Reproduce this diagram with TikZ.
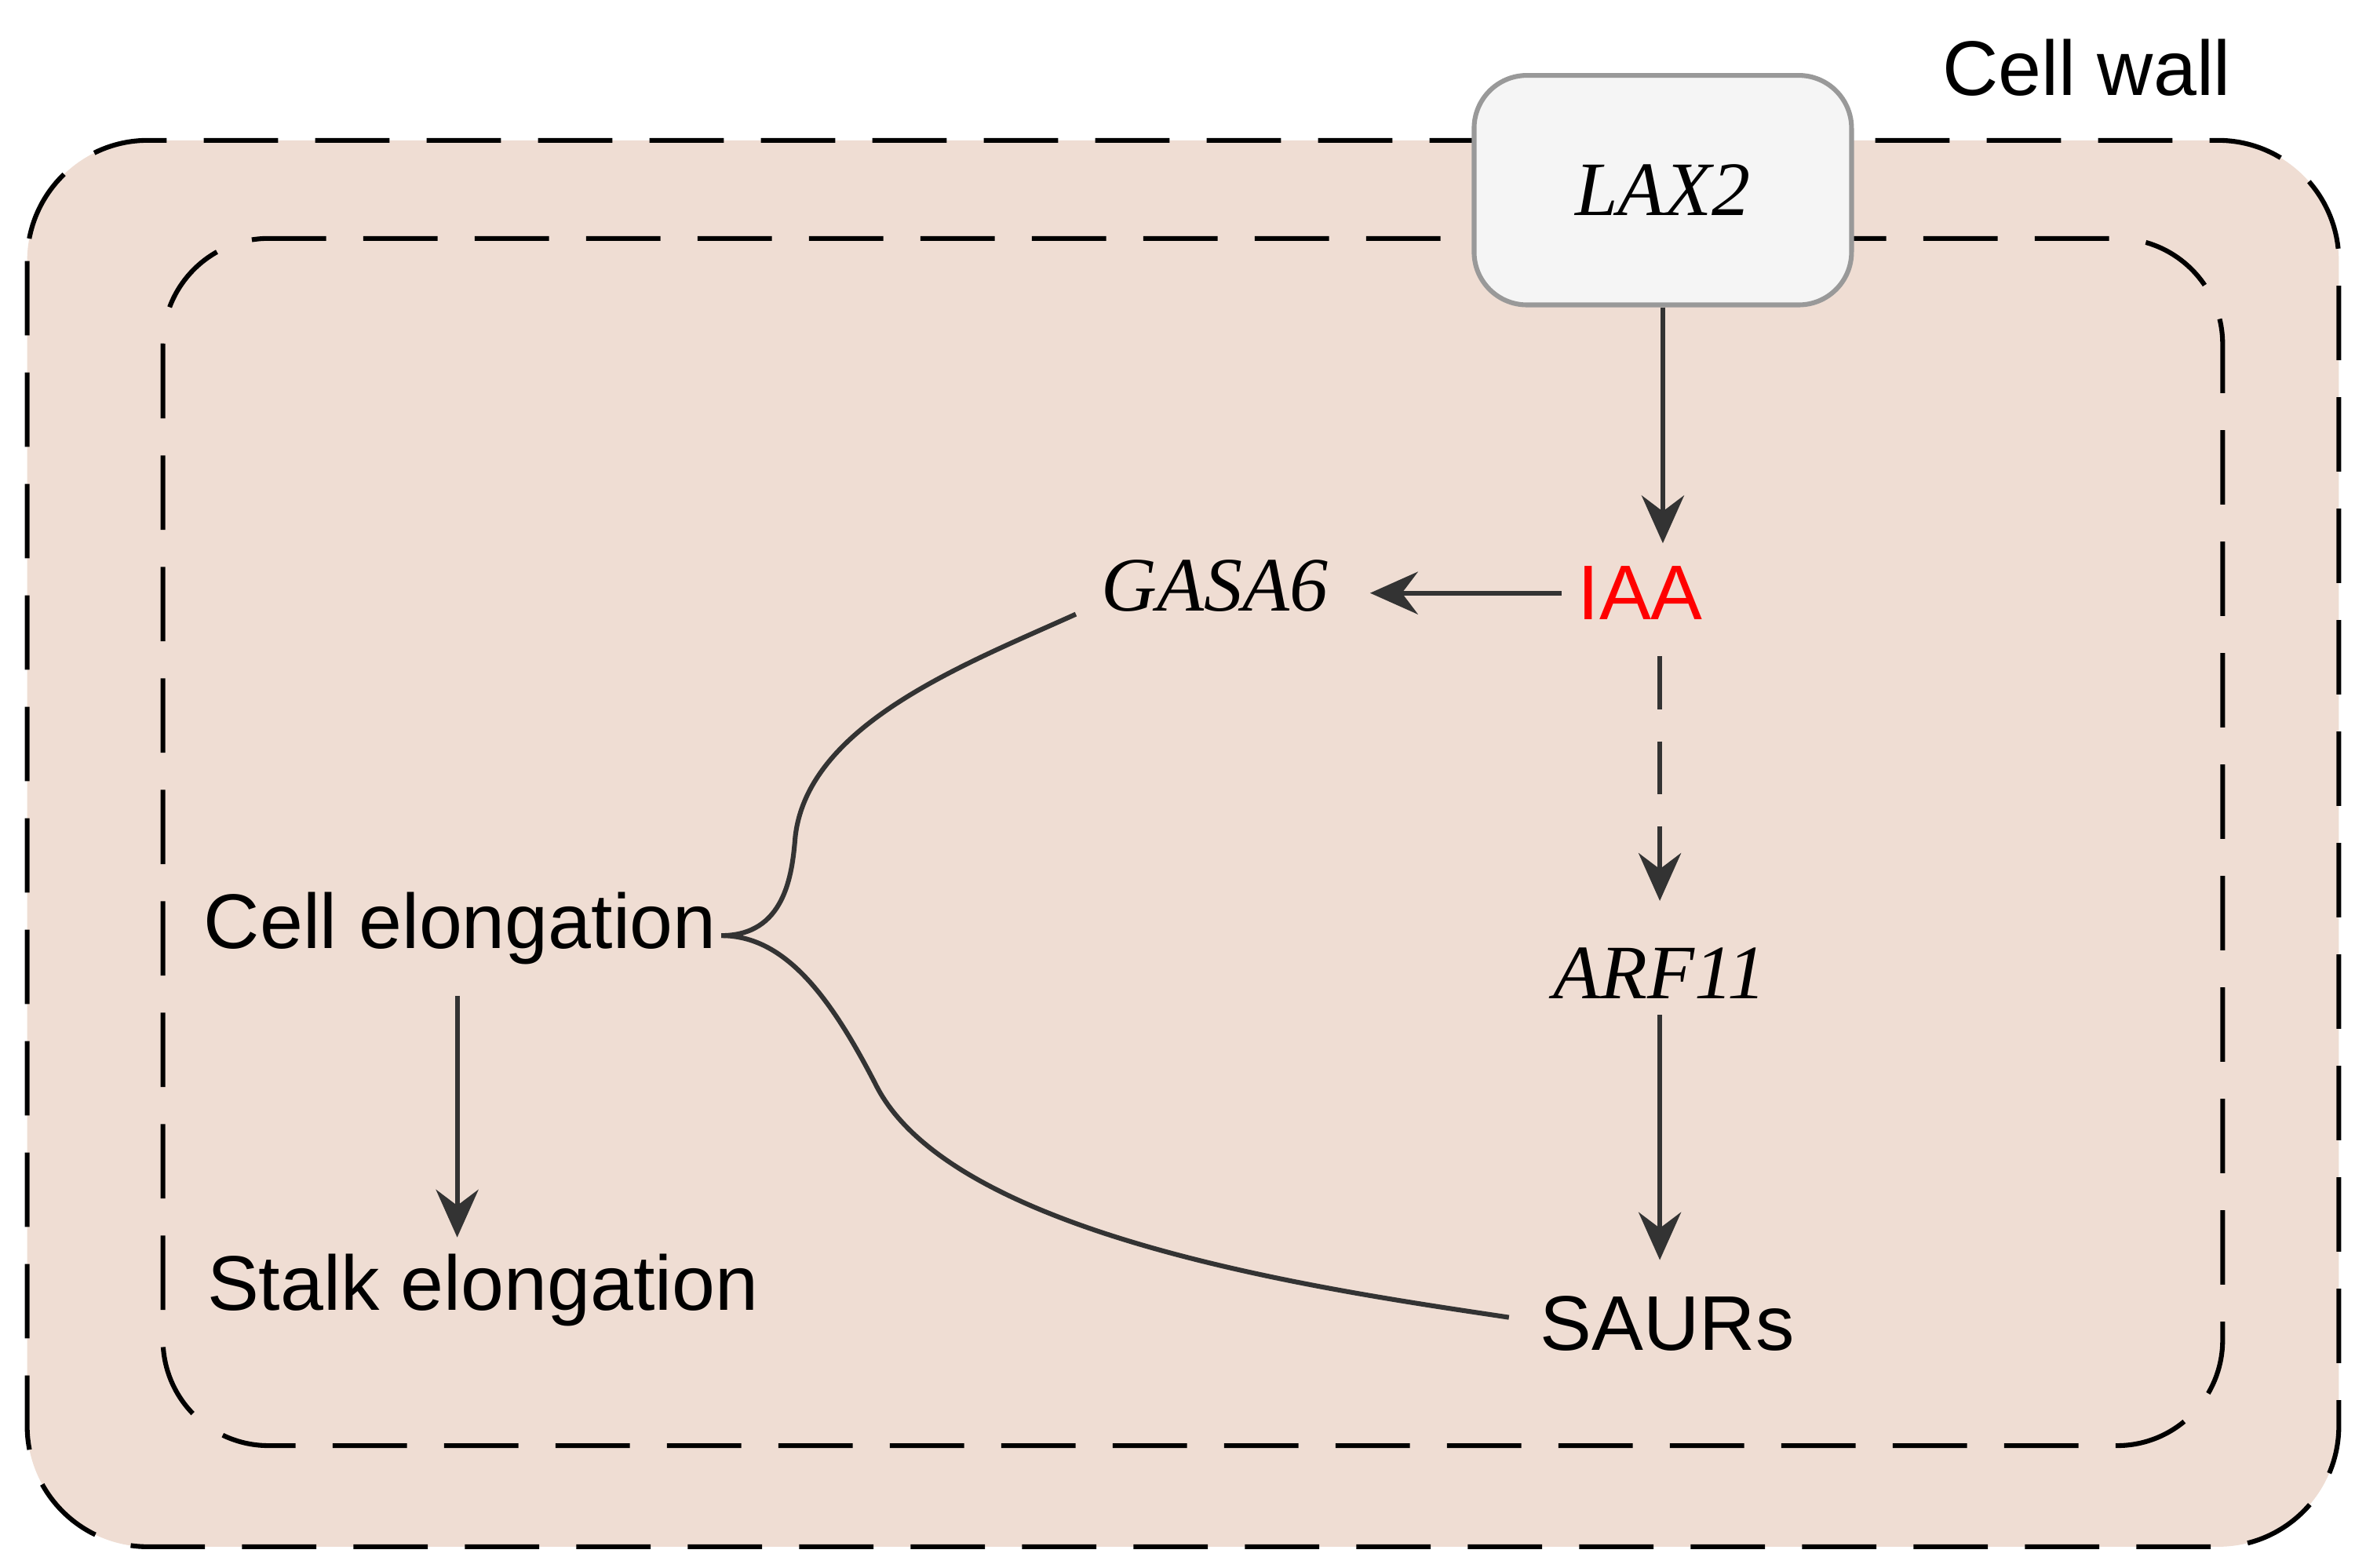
\documentclass[tikz,border=0pt]{standalone}
\usepackage{fontspec}
\setmainfont{Liberation Sans}
\newfontfamily\genefont{Liberation Serif}
\usetikzlibrary{arrows.meta}
\definecolor{cellfill}{HTML}{EFDDD3}
\definecolor{boxfill}{HTML}{F5F5F5}
\definecolor{linecol}{HTML}{333333}
\tikzset{
  wall/.style={dashed, dash pattern=on 14pt off 7pt, line width=0.9pt},
  lbl/.style={font=\fontsize{14.6}{16}\selectfont, inner sep=1mm},
  gene/.style={font=\genefont\itshape\fontsize{14.5}{16}\selectfont, inner sep=1mm},
  link/.style={draw=linecol, line width=0.9pt},
  arr/.style={link, -{Stealth[length=9pt, width=8pt, inset=3pt]}}
}
\begin{document}
\begin{tikzpicture}[x=0.01cm, y=-0.01cm]
    \useasboundingbox (0,0) rectangle (1568,1039);
    \fill[white] (0,0) rectangle (1568,1039);

    % cell wall and membrane
    \draw[wall, fill=cellfill, rounded corners=0.8cm] (18,93) rectangle (1550,1025);
    \draw[wall, rounded corners=0.7cm] (108,158) rectangle (1473,958);
    \node[lbl] (wall) at (1383,45) {Cell wall};

    \node[gene, draw=gray!80, fill=boxfill, rounded corners=0.35cm, line width=0.9pt,
          minimum width=2.5cm, minimum height=1.52cm] (lax) at (1102,126) {LAX2};

    \node[lbl, text=red] (iaa) at (1087,393) {IAA};
    \node[gene] (gasa) at (805,388) {GASA6};
    \node[gene] (arf) at (1100,645) {ARF11};
    \node[lbl] (saur) at (1105,877) {SAURs};
    \node[lbl] (cell) at (305,615) {Cell elongation};
    \node[lbl] (stalk) at (320,855) {Stalk elongation};

    \coordinate (fork) at (478,620);
    \coordinate (gasaend) at (713,407);
    \coordinate (saurend) at (1000,873);

    \draw[arr] (lax.south) -- (1102,360);
    \draw[arr] (iaa.west) -- (908,393);
    \draw[arr, dash pattern=on 10pt off 6pt] (1100,435) -- (1100,597);
    \draw[arr] (arf.south) -- (1100,835);
    \draw[arr] (303,660) -- (303,820);

    \draw[link] (fork) .. controls (520,620) and (525,580) .. (527,555)
                       .. controls (535,480) and (640,440) .. (gasaend);
    \draw[link] (fork) .. controls (520,620) and (550,660) .. (580,718)
                       .. controls (630,820) and (880,855) .. (saurend);
\end{tikzpicture}
\end{document}
